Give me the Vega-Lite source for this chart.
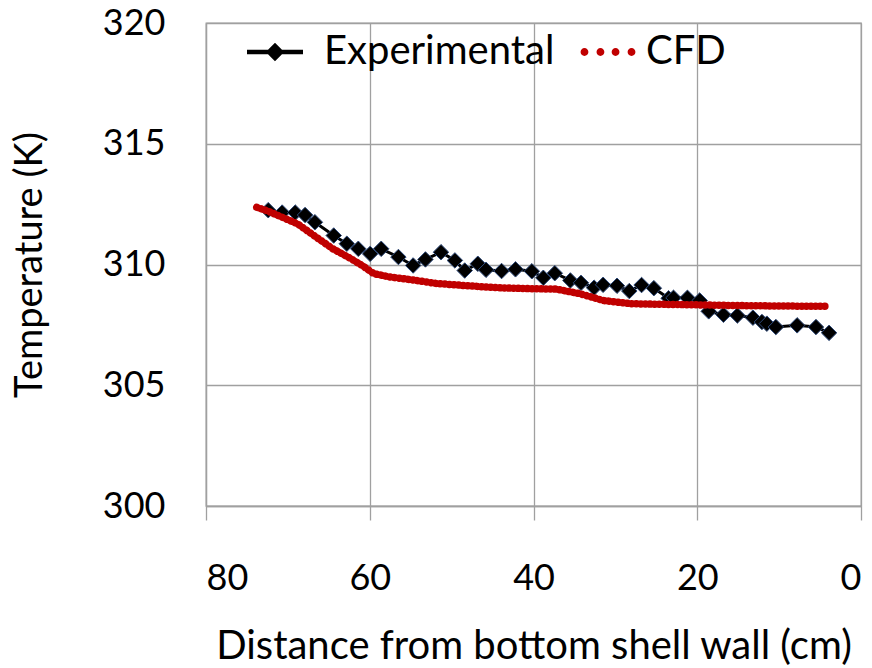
{
  "$schema": "https://vega.github.io/schema/vega-lite/v6.json",
  "autosize": "none",
  "width": 655,
  "height": 483,
  "padding": {"left": 206, "top": 23, "right": 11, "bottom": 162},
  "background": "white",
  "config": {
    "font": "Lato",
    "view": {"stroke": "#A0A0A0", "strokeWidth": 1.3},
    "axis": {
      "gridColor": "#A0A0A0",
      "gridWidth": 1.3,
      "domainColor": "#A0A0A0",
      "domainWidth": 1.3,
      "tickColor": "#A0A0A0",
      "tickWidth": 1.3,
      "labelFont": "Lato",
      "labelFontSize": 36,
      "labelColor": "#000000",
      "titleFont": "Lato",
      "titleFontSize": 38,
      "titleFontWeight": "normal",
      "titleColor": "#000000"
    }
  },
  "datasets": {
    "exp": [
      {"x": 72.4, "y": 312.25, "series": "Experimental"},
      {"x": 70.7, "y": 312.15, "series": "Experimental"},
      {"x": 69.1, "y": 312.15, "series": "Experimental"},
      {"x": 67.9, "y": 312.05, "series": "Experimental"},
      {"x": 66.7, "y": 311.75, "series": "Experimental"},
      {"x": 64.4, "y": 311.2, "series": "Experimental"},
      {"x": 62.8, "y": 310.86, "series": "Experimental"},
      {"x": 61.4, "y": 310.65, "series": "Experimental"},
      {"x": 59.95, "y": 310.44, "series": "Experimental"},
      {"x": 58.6, "y": 310.65, "series": "Experimental"},
      {"x": 56.5, "y": 310.31, "series": "Experimental"},
      {"x": 54.7, "y": 309.96, "series": "Experimental"},
      {"x": 53.2, "y": 310.21, "series": "Experimental"},
      {"x": 51.3, "y": 310.51, "series": "Experimental"},
      {"x": 49.6, "y": 310.17, "series": "Experimental"},
      {"x": 48.4, "y": 309.75, "series": "Experimental"},
      {"x": 46.8, "y": 310.03, "series": "Experimental"},
      {"x": 45.8, "y": 309.78, "series": "Experimental"},
      {"x": 43.9, "y": 309.73, "series": "Experimental"},
      {"x": 42.2, "y": 309.8, "series": "Experimental"},
      {"x": 40.2, "y": 309.72, "series": "Experimental"},
      {"x": 38.8, "y": 309.45, "series": "Experimental"},
      {"x": 37.4, "y": 309.64, "series": "Experimental"},
      {"x": 35.5, "y": 309.34, "series": "Experimental"},
      {"x": 34.2, "y": 309.24, "series": "Experimental"},
      {"x": 32.6, "y": 309.04, "series": "Experimental"},
      {"x": 31.5, "y": 309.16, "series": "Experimental"},
      {"x": 29.8, "y": 309.12, "series": "Experimental"},
      {"x": 28.3, "y": 308.9, "series": "Experimental"},
      {"x": 26.8, "y": 309.15, "series": "Experimental"},
      {"x": 25.3, "y": 309.02, "series": "Experimental"},
      {"x": 23.5, "y": 308.6, "series": "Experimental"},
      {"x": 22.9, "y": 308.62, "series": "Experimental"},
      {"x": 21.2, "y": 308.62, "series": "Experimental"},
      {"x": 19.7, "y": 308.51, "series": "Experimental"},
      {"x": 18.6, "y": 308.06, "series": "Experimental"},
      {"x": 16.8, "y": 307.92, "series": "Experimental"},
      {"x": 15.1, "y": 307.89, "series": "Experimental"},
      {"x": 13.2, "y": 307.8, "series": "Experimental"},
      {"x": 12.1, "y": 307.62, "series": "Experimental"},
      {"x": 11.5, "y": 307.55, "series": "Experimental"},
      {"x": 10.4, "y": 307.41, "series": "Experimental"},
      {"x": 7.8, "y": 307.48, "series": "Experimental"},
      {"x": 5.5, "y": 307.41, "series": "Experimental"},
      {"x": 3.9, "y": 307.17, "series": "Experimental"}
    ],
    "cfd": [
      {"x": 73.8, "y": 312.37, "series": "CFD"},
      {"x": 72.5, "y": 312.22, "series": "CFD"},
      {"x": 71.0, "y": 312.0, "series": "CFD"},
      {"x": 68.8, "y": 311.68, "series": "CFD"},
      {"x": 66.4, "y": 311.1, "series": "CFD"},
      {"x": 64.5, "y": 310.65, "series": "CFD"},
      {"x": 62.5, "y": 310.28, "series": "CFD"},
      {"x": 60.8, "y": 309.93, "series": "CFD"},
      {"x": 59.5, "y": 309.62, "series": "CFD"},
      {"x": 57.5, "y": 309.48, "series": "CFD"},
      {"x": 54.3, "y": 309.34, "series": "CFD"},
      {"x": 52.0, "y": 309.22, "series": "CFD"},
      {"x": 48.5, "y": 309.13, "series": "CFD"},
      {"x": 44.5, "y": 309.04, "series": "CFD"},
      {"x": 40.4, "y": 309.0, "series": "CFD"},
      {"x": 37.2, "y": 308.98, "series": "CFD"},
      {"x": 34.3, "y": 308.79, "series": "CFD"},
      {"x": 31.5, "y": 308.51, "series": "CFD"},
      {"x": 28.2, "y": 308.38, "series": "CFD"},
      {"x": 25.8, "y": 308.36, "series": "CFD"},
      {"x": 20.0, "y": 308.33, "series": "CFD"},
      {"x": 15.0, "y": 308.3, "series": "CFD"},
      {"x": 10.0, "y": 308.28, "series": "CFD"},
      {"x": 4.1, "y": 308.27, "series": "CFD"}
    ]
  },
  "encoding": {
    "x": {
      "field": "x",
      "type": "quantitative",
      "scale": {"domain": [0, 80], "reverse": true, "nice": false, "zero": false},
      "axis": {
        "title": "Distance from bottom shell wall (cm)",
        "values": [0, 20, 40, 60, 80],
        "tickSize": 14,
        "labelPadding": 41,
        "titleFontSize": 40,
        "titlePadding": 30,
        "grid": true
      }
    },
    "y": {
      "field": "y",
      "type": "quantitative",
      "scale": {"domain": [300, 320], "nice": false, "zero": false},
      "axis": {
        "title": "Temperature (K)",
        "values": [300, 305, 310, 315, 320],
        "tickSize": 0,
        "labelPadding": 41,
        "titlePadding": 53,
        "grid": true
      }
    },
    "color": {
      "field": "series",
      "type": "nominal",
      "scale": {"domain": ["Experimental", "CFD"], "range": ["#000000", "#C00000"]},
      "legend": {
        "title": null,
        "orient": "none",
        "legendX": 41,
        "legendY": 1,
        "direction": "horizontal",
        "padding": 0,
        "labelFont": "Lato",
        "labelFontSize": 40,
        "labelColor": "#000000",
        "labelLimit": 400,
        "labelOffset": 21,
        "columnPadding": 25,
        "symbolSize": 3136,
        "encode": {
          "labels": {
            "update": {
              "dx": {"signal": "datum.value === 'CFD' ? -11 : 0"}
            }
          },
          "symbols": {
            "update": {
              "shape": {"signal": "datum.value === 'CFD' ? 'M-0.98,0a0.14,0.14 0 1,0 0.28,0a0.14,0.14 0 1,0 -0.28,0Z M-0.41,0a0.14,0.14 0 1,0 0.28,0a0.14,0.14 0 1,0 -0.28,0Z M0.13,0a0.14,0.14 0 1,0 0.28,0a0.14,0.14 0 1,0 -0.28,0Z M0.7,0a0.14,0.14 0 1,0 0.28,0a0.14,0.14 0 1,0 -0.28,0Z' : 'M-1,-0.08H1V0.08H-1Z M0,-0.33L0.33,0L0,0.33L-0.33,0Z'"},
              "fill": {"signal": "datum.value === 'CFD' ? '#C00000' : '#000000'"},
              "fillOpacity": {"value": 1},
              "stroke": {"value": "transparent"},
              "strokeWidth": {"value": 0},
              "size": {"value": 3136},
              "opacity": {"value": 1}
            }
          }
        }
      }
    }
  },
  "layer": [
    {
      "data": {"name": "exp"},
      "mark": {"type": "line", "strokeWidth": 3},
      "encoding": {}
    },
    {
      "data": {"name": "exp"},
      "mark": {"type": "point", "shape": "diamond", "filled": true, "size": 240, "opacity": 1, "stroke": "#2E4A7A", "strokeWidth": 1},
      "encoding": {}
    },
    {
      "data": {"name": "cfd"},
      "mark": {"type": "line", "strokeWidth": 7.5, "strokeCap": "round", "strokeDash": [0.1, 4.5]},
      "encoding": {}
    }
  ]
}
